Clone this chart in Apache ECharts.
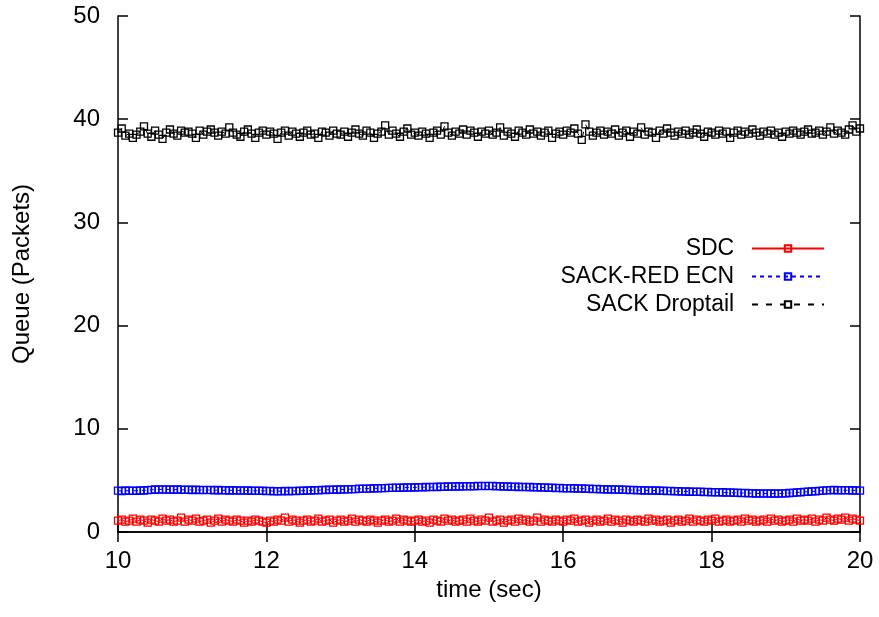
<!DOCTYPE html>
<html>
<head>
<meta charset="utf-8">
<script src="https://cdn.jsdelivr.net/npm/echarts@6/dist/echarts.min.js"></script>
<style>
html,body{margin:0;padding:0;background:#fff;}
#chart{width:879px;height:617px;}
</style>
</head>
<body>
<div id="chart"></div>
<script>
// sampling of the time axis (sec)
var timeStart = 10;
var timeStep = 0.05;

var seriesNames = ['SDC', 'SACK-RED ECN', 'SACK Droptail'];

var sdcQueue = [
1.1,1.2,1.0,1.1,1.3,1.0,1.2,1.1,0.9,1.2,1.1,1.0,1.3,1.1,1.2,1.0,1.1,1.4,1.0,1.2,
1.1,1.3,1.0,1.1,1.2,0.9,1.1,1.3,1.0,1.2,1.1,1.0,1.2,1.1,0.9,1.1,1.0,1.2,1.1,1.0,
0.9,1.1,1.0,1.2,1.1,1.4,1.0,1.2,1.1,0.9,1.1,1.2,1.0,1.1,1.3,1.0,1.1,1.2,0.9,1.1,
1.2,1.0,1.1,1.3,1.0,1.2,1.1,1.0,1.2,1.1,0.9,1.1,1.2,1.0,1.1,1.3,1.0,1.2,1.1,1.0,
1.1,1.2,1.0,1.1,0.9,1.2,1.1,1.0,1.3,1.1,1.2,1.0,1.1,1.2,1.0,1.3,1.1,1.0,1.2,1.1,
1.4,1.0,1.1,1.2,0.9,1.1,1.2,1.0,1.3,1.1,1.2,1.0,1.1,1.4,1.0,1.2,1.1,1.0,1.2,1.1,
1.0,1.2,1.1,1.3,1.0,1.1,1.2,0.9,1.1,1.2,1.0,1.1,1.3,1.0,1.2,1.1,0.9,1.2,1.1,1.0,
1.2,1.1,1.0,1.3,1.1,1.2,1.0,1.1,1.2,0.9,1.1,1.2,1.0,1.1,1.3,1.0,1.2,1.1,1.0,1.2,
1.1,1.3,1.0,1.1,1.2,1.0,1.1,1.2,1.0,1.3,1.1,1.2,1.0,1.1,1.2,1.0,1.3,1.1,1.2,1.0,
1.1,1.2,1.0,1.3,1.1,1.2,1.1,1.3,1.0,1.2,1.1,1.4,1.2,1.1,1.3,1.2,1.4,1.1,1.3,1.2,
1.1
];

var redEcnQueue = [
4.00,3.97,4.02,3.98,4.01,3.99,4.04,4.02,4.06,4.08,4.12,4.10,4.14,4.11,4.13,4.09,4.12,4.10,4.08,4.11,
4.07,4.10,4.06,4.09,4.05,4.08,4.04,4.07,4.03,4.06,4.02,4.05,4.01,4.04,4.00,4.03,3.99,4.01,3.98,4.00,
3.96,3.99,3.95,3.97,3.94,3.98,3.95,3.99,3.97,4.01,3.99,4.03,4.02,4.06,4.04,4.08,4.07,4.10,4.09,4.12,
4.11,4.14,4.13,4.16,4.15,4.19,4.17,4.21,4.20,4.24,4.22,4.26,4.25,4.28,4.27,4.30,4.28,4.31,4.30,4.33,
4.31,4.34,4.33,4.36,4.34,4.37,4.36,4.39,4.37,4.41,4.39,4.42,4.41,4.44,4.42,4.45,4.43,4.46,4.44,4.47,
4.44,4.46,4.42,4.44,4.40,4.42,4.38,4.40,4.36,4.38,4.34,4.36,4.32,4.34,4.30,4.32,4.28,4.30,4.26,4.28,
4.24,4.26,4.22,4.24,4.20,4.22,4.18,4.20,4.16,4.18,4.14,4.16,4.12,4.14,4.10,4.12,4.08,4.10,4.06,4.08,
4.04,4.06,4.02,4.04,4.00,4.02,3.98,4.00,3.96,3.98,3.94,3.96,3.92,3.94,3.90,3.92,3.88,3.90,3.86,3.88,
3.85,3.87,3.83,3.85,3.81,3.83,3.79,3.81,3.77,3.79,3.75,3.77,3.73,3.75,3.72,3.74,3.71,3.73,3.72,3.74,
3.75,3.78,3.80,3.83,3.85,3.88,3.90,3.93,3.95,3.98,4.00,4.03,4.05,4.07,4.04,4.06,4.03,4.05,4.02,4.04,
4.01
];

var droptailQueue = [
38.7,39.1,38.4,38.6,38.2,38.5,38.8,39.3,38.6,38.3,38.9,38.5,38.1,38.7,39.0,38.6,38.4,38.9,38.7,38.8,
38.6,38.2,38.9,38.5,38.8,39.0,38.7,38.4,38.8,38.6,39.2,38.7,38.5,38.3,38.8,39.0,38.6,38.2,38.7,38.9,
38.5,38.8,38.6,38.1,38.7,38.9,38.4,38.8,38.6,38.3,38.7,38.9,38.5,38.6,38.2,38.8,38.7,38.4,38.9,38.6,
38.5,38.8,38.3,38.7,39.0,38.6,38.4,38.9,38.7,38.2,38.6,38.8,39.4,38.5,38.9,38.6,38.3,38.8,39.1,38.5,
38.7,38.4,38.8,38.6,38.2,38.7,38.9,38.5,39.3,38.7,38.4,38.8,38.6,39.0,38.5,38.9,38.7,38.3,38.8,38.6,
38.9,38.5,38.7,39.2,38.4,38.8,38.6,38.3,38.9,38.7,38.5,39.0,38.6,38.8,38.4,38.7,38.9,38.2,38.6,38.8,
38.5,38.9,38.7,39.1,38.6,38.0,39.5,38.8,38.4,38.7,38.9,38.5,38.8,38.6,39.0,38.4,38.7,38.9,38.3,38.8,
38.6,39.2,38.5,38.8,38.7,38.2,38.9,38.6,39.1,38.7,38.4,38.8,38.6,38.9,38.5,38.7,39.0,38.6,38.3,38.8,
38.7,38.5,38.9,38.6,38.8,38.2,38.7,38.9,38.5,38.8,38.6,39.0,38.7,38.4,38.8,38.6,38.9,38.5,38.7,38.3,
38.8,38.6,38.9,38.7,38.5,38.8,39.0,38.6,38.7,38.9,38.5,38.8,39.2,38.6,38.9,38.7,38.5,39.0,39.4,38.8,
39.1
];

var xTicks = [10, 12, 14, 16, 18, 20];
var yTicks = [0, 10, 20, 30, 40, 50];

function pairs(vals) {
  var out = [];
  for (var i = 0; i < vals.length; i++) {
    out.push([+(timeStart + i * timeStep).toFixed(2), vals[i]]);
  }
  return out;
}

var FONT = 'Liberation Sans, Arial, sans-serif';
var FS = 24;
var sq = 'path://M0,0L10,0L10,10L0,10Z';

function mkSeries(name, vals, color, lineType) {
  return {
    name: name,
    type: 'line',
    data: pairs(vals),
    symbol: sq,
    symbolSize: 7,
    showSymbol: true,
    showAllSymbol: true,
    animation: false,
    clip: false,
    lineStyle: { color: color, width: 1, type: lineType },
    itemStyle: { color: 'rgba(0,0,0,0)', borderColor: color, borderWidth: 1.3 }
  };
}

var axisLineStyle = { color: '#000', width: 1.5 };
var tickStyle = { inside: true, length: 10, lineStyle: { color: '#000', width: 1.5 } };

var chart = echarts.init(document.getElementById('chart'), null, { renderer: 'canvas' });
chart.setOption({
  animation: false,
  backgroundColor: '#fff',
  grid: { left: 118, right: 19, top: 16, bottom: 85 },
  legend: {
    orient: 'vertical',
    align: 'right',
    right: 54,
    top: 237,
    padding: 0,
    itemWidth: 72,
    itemHeight: 8,
    itemGap: 5,
    data: seriesNames,
    formatter: function (n) { return n + '  '; },
    textStyle: { fontFamily: FONT, fontSize: FS - 1, color: '#000' }
  },
  xAxis: [{
    type: 'value', position: 'bottom',
    min: xTicks[0], max: xTicks[xTicks.length - 1], interval: 2,
    name: 'time (sec)', nameLocation: 'middle', nameGap: 30,
    nameTextStyle: { fontFamily: FONT, fontSize: FS, color: '#000' },
    axisLine: { lineStyle: axisLineStyle },
    axisTick: tickStyle,
    axisLabel: { fontFamily: FONT, fontSize: FS, color: '#000', margin: 17 },
    splitLine: { show: false }
  }, {
    type: 'value', position: 'top',
    min: xTicks[0], max: xTicks[xTicks.length - 1], interval: 2,
    axisLine: { lineStyle: axisLineStyle },
    axisTick: tickStyle,
    axisLabel: { show: false },
    splitLine: { show: false }
  }],
  yAxis: [{
    type: 'value', position: 'left',
    min: yTicks[0], max: yTicks[yTicks.length - 1], interval: 10,
    name: 'Queue (Packets)', nameLocation: 'middle', nameGap: 84,
    nameTextStyle: { fontFamily: FONT, fontSize: FS, color: '#000' },
    axisLine: { show: true, lineStyle: axisLineStyle },
    axisTick: Object.assign({ show: true }, tickStyle),
    axisLabel: { fontFamily: FONT, fontSize: FS, color: '#000', margin: 18 },
    splitLine: { show: false }
  }, {
    type: 'value', position: 'right',
    min: yTicks[0], max: yTicks[yTicks.length - 1], interval: 10,
    axisLine: { show: true, lineStyle: axisLineStyle },
    axisTick: Object.assign({ show: true }, tickStyle),
    axisLabel: { show: false },
    splitLine: { show: false }
  }],
  series: [
    mkSeries(seriesNames[0], sdcQueue, '#ff0000', 'solid'),
    mkSeries(seriesNames[1], redEcnQueue, '#0000ff', [4, 4]),
    mkSeries(seriesNames[2], droptailQueue, '#000000', [6, 8])
  ]
});
</script>
</body>
</html>
